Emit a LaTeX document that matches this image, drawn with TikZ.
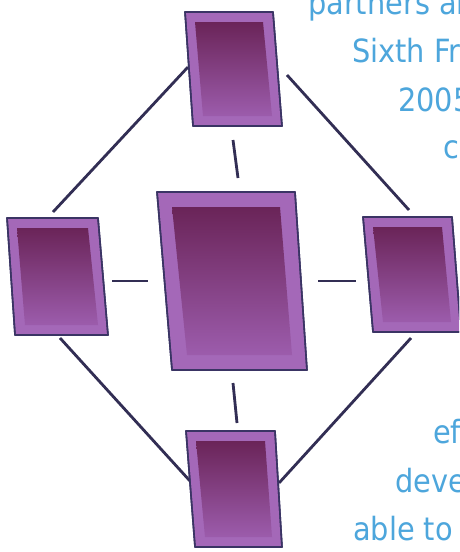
\documentclass[tikz,border=0pt]{standalone}
\usepackage{fontspec}
\newfontfamily\tfont[FakeStretch=0.9]{DejaVu Sans}
\definecolor{framec}{RGB}{164,104,184}
\definecolor{innertop}{RGB}{106,36,88}
\definecolor{innerbot}{RGB}{156,92,172}
\definecolor{edgec}{RGB}{58,52,100}
\definecolor{linec}{RGB}{50,46,84}
\definecolor{textc}{RGB}{77,166,220}
\tikzset{
  boxframe/.style={fill=framec, draw=edgec, line width=1.6pt, line join=round},
  boxinner/.style={top color=innertop, bottom color=innerbot},
  link/.style={draw=linec, line width=2.8pt},
  txt/.style={text=textc, font=\tfont\fontsize{32}{38}\selectfont, anchor=base west, inner sep=0pt}
}
% #1 name, #2 TLx, #3 TRx, #4 top y, #5 BLx, #6 BRx, #7 bottom y, #8 inset
\newcommand\purplebox[8]{%
  \coordinate (#1-tl) at (#2,#4);
  \coordinate (#1-tr) at (#3,#4);
  \coordinate (#1-br) at (#6,#7);
  \coordinate (#1-bl) at (#5,#7);
  \path[boxframe] (#1-tl) -- (#1-tr) -- (#1-br) -- (#1-bl) -- cycle;
  \shade[boxinner] ([shift={(#8,#8)}]#1-tl) -- ([shift={(-#8,#8)}]#1-tr)
     -- ([shift={(-#8,-#8)}]#1-br) -- ([shift={(#8,-#8)}]#1-bl) -- cycle;
  \path[boxframe,fill=none] (#1-tl) -- (#1-tr) -- (#1-br) -- (#1-bl) -- cycle;
}
\begin{document}
\begin{tikzpicture}[x=1pt,y=-1pt]
\useasboundingbox (0,0) rectangle (459,552);
\clip (0,0) rectangle (459,552);
\fill[white] (0,0) rectangle (459,552);

% texts
\node[txt] (t1) at (308,14) {partners an};
\node[txt] (t2) at (352,62) {Sixth Fr};
\node[txt] (t3) at (398,111) {2005};
\node[txt] (t4) at (443,158) {co};
\node[txt] (t5) at (433,443) {ef};
\node[txt] (t6) at (395,492) {deve};
\node[txt] (t7) at (353,540) {able to};

% connector endpoints
\coordinate (a1) at (53,212);  \coordinate (a2) at (188,67);
\coordinate (b1) at (287,75);  \coordinate (b2) at (409,210);
\coordinate (c1) at (60,338);  \coordinate (c2) at (190,481);
\coordinate (d1) at (411,338); \coordinate (d2) at (279,483);
\coordinate (e1) at (233,140); \coordinate (e2) at (238,178);
\coordinate (f1) at (233,383); \coordinate (f2) at (237,423);
\coordinate (g1) at (112,281); \coordinate (g2) at (148,281);
\coordinate (h1) at (318,281); \coordinate (h2) at (356,281);

\draw[link] (a1) -- (a2);
\draw[link] (b1) -- (b2);
\draw[link] (c1) -- (c2);
\draw[link] (d1) -- (d2);
\draw[link] (e1) -- (e2);
\draw[link] (f1) -- (f2);
\draw[link] (g1) -- (g2);
\draw[link] (h1) -- (h2);

% boxes
\purplebox{top}{185}{273}{12}{193}{282}{126}{10}
\purplebox{ctr}{157}{295}{192}{172}{307}{370}{15}
\purplebox{lft}{7}{98}{218}{15}{108}{335}{10}
\purplebox{rgt}{363}{452}{217}{373}{461}{332}{10}
\purplebox{bot}{186}{275}{431}{195}{282}{547}{10}
\end{tikzpicture}
\end{document}
